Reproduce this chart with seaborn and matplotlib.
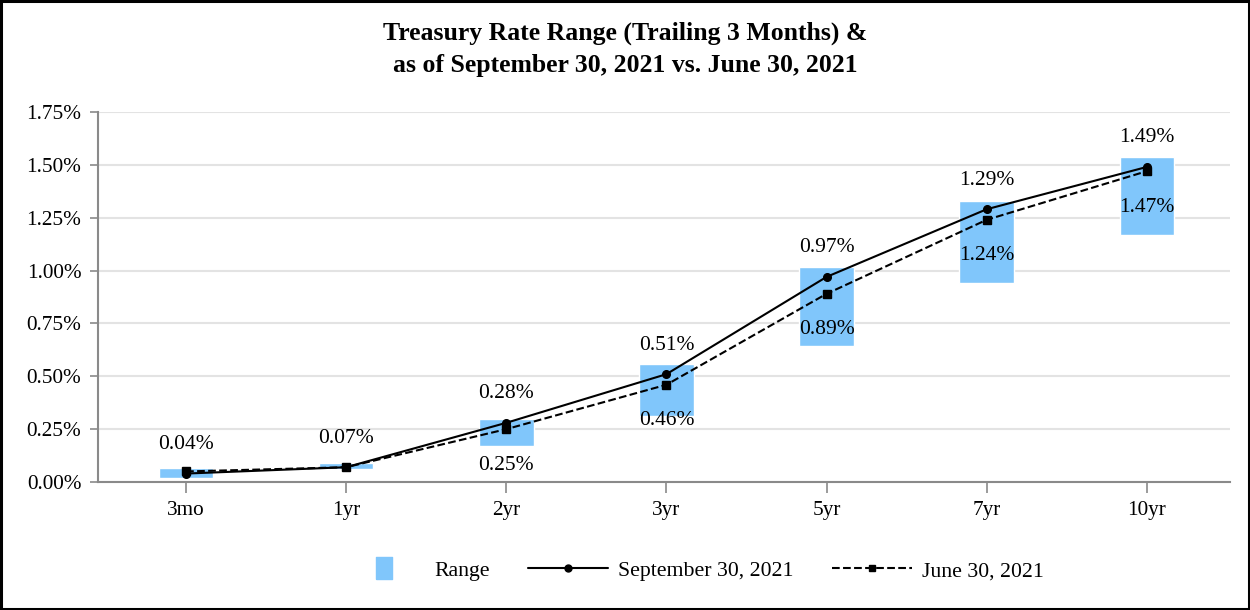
import matplotlib
matplotlib.use("Agg")
import matplotlib.pyplot as plt
import seaborn as sns
import numpy as np
from matplotlib.lines import Line2D
from matplotlib.ticker import FixedLocator, FuncFormatter

tenors = ["3mo", "1yr", "2yr", "3yr", "5yr", "7yr", "10yr"]
range_low = [0.02, 0.06, 0.17, 0.31, 0.645, 0.94, 1.17]
range_high = [0.065, 0.09, 0.30, 0.56, 1.015, 1.33, 1.535]
sep_2021 = [0.04, 0.07, 0.28, 0.51, 0.97, 1.29, 1.49]
jun_2021 = [0.05, 0.07, 0.25, 0.46, 0.89, 1.24, 1.47]
sep_labels = ["0.04%", "0.07%", "0.28%", "0.51%", "0.97%", "1.29%", "1.49%"]
jun_labels = ["", "", "0.25%", "0.46%", "0.89%", "1.24%", "1.47%"]
y_ticks = [0.0, 0.25, 0.5, 0.75, 1.0, 1.25, 1.5, 1.75]

sns.set_style("white")
plt.rcParams["font.family"] = ["Liberation Serif", "DejaVu Serif"]
plt.rcParams["text.color"] = "black"
plt.rcParams["axes.labelcolor"] = "black"

BAR = "#80C6FB"
fig = plt.figure(figsize=(12.5, 6.1), dpi=100)
ax = fig.add_axes([0.0784, 0.2098, 0.9056, 0.6066])

heights = np.array(range_high) - np.array(range_low)
sns.barplot(x=tenors, y=heights, bottom=range_low, color=BAR, width=0.34,
            saturation=1, ax=ax, zorder=2)

sns.pointplot(x=tenors, y=sep_2021, color="black", markers="o", linestyles="-",
              errorbar=None, ax=ax, linewidth=1.5, markersize=5.5,
              markeredgewidth=1, zorder=4)
sns.pointplot(x=tenors, y=jun_2021, color="black", markers="s", linestyles="--",
              errorbar=None, ax=ax, linewidth=1.5, markersize=5.5,
              markeredgewidth=1, zorder=3)

for i, (v, t) in enumerate(zip(sep_2021, sep_labels)):
    ax.annotate(t, (i, v), xytext=(0, 21), textcoords="offset points",
                ha="center", va="center", fontsize=15.5, color="black", zorder=5)
for i, (v, t) in enumerate(zip(jun_2021, jun_labels)):
    if t:
        ax.annotate(t, (i, v), xytext=(0, -26), textcoords="offset points",
                    ha="center", va="center", fontsize=15.5, color="black",
                    zorder=5)

ax.set_xlim(-0.55, 6.52)
ax.set_ylim(0, 1.75)
ax.yaxis.set_major_locator(FixedLocator(y_ticks))
ax.yaxis.set_major_formatter(FuncFormatter(lambda v, p: f"{v:.2f}%"))
ax.grid(axis="y", color="#e3e3e3", linewidth=1.5, zorder=0)
ax.set_axisbelow(True)
for s in ["top", "right"]:
    ax.spines[s].set_visible(False)
for s in ["left", "bottom"]:
    ax.spines[s].set_color("#8a8a8a")
    ax.spines[s].set_linewidth(1.5)
ax.tick_params(axis="y", which="major", left=True, length=6, width=1.2,
               color="#8a8a8a", labelcolor="black", labelsize=15.3, pad=6)
ax.tick_params(axis="x", which="major", bottom=True, length=8, width=1.2,
               color="#8a8a8a", labelcolor="black", labelsize=15.3, pad=6)
ax.set_xlabel("")
ax.set_ylabel("")

fig.text(0.5, 0.946, "Treasury Rate Range (Trailing 3 Months) &", ha="center",
         va="center", fontsize=18.5, fontweight="bold", color="black")
fig.text(0.5, 0.893, "as of September 30, 2021 vs. June 30, 2021", ha="center",
         va="center", fontsize=18.5, fontweight="bold", color="black")

rect_marker = [(-8, -11), (8, -11), (8, 11), (-8, 11), (-8, -11)]
handles = [
    Line2D([], [], linestyle="none", marker=rect_marker, markersize=16,
           markerfacecolor=BAR, markeredgecolor=BAR),
    Line2D([], [], color="black", linestyle="-", linewidth=1.5, marker="o",
           markersize=5),
    Line2D([], [], color="black", linestyle="--", linewidth=1.5, marker="s",
           markersize=5),
]
labels = ["Range", "September 30, 2021", "June 30, 2021"]
leg = fig.legend(handles, labels, loc="center", bbox_to_anchor=(0.555, 0.064),
                 ncol=3, frameon=False, fontsize=15.7, handlelength=3.7,
                 handletextpad=0.45, columnspacing=1.75)
for t in leg.get_texts():
    t.set_color("black")

border = plt.Rectangle((0.001, 0.002), 0.998, 0.996, transform=fig.transFigure,
                       fill=False, edgecolor="black", linewidth=2.2)
fig.patches.append(border)

fig.savefig("out.png", dpi=100, facecolor="white")
